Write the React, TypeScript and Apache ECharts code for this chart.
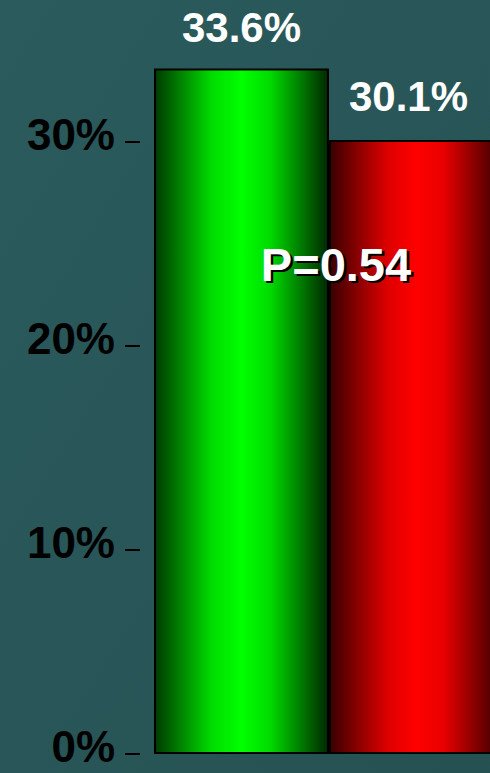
import React, { useEffect, useRef } from "react";
import * as echarts from "echarts";

// Share of patients per group (%)
const groups = ["A", "B"];
const rates = [33.6, 30.1];
const yTicks = [0, 10, 20, 30];
const pValueText = "P=0.54";

const FONT = "'Liberation Sans', Arial, Helvetica, sans-serif";

const greenFill = new echarts.graphic.LinearGradient(0, 0, 1, 0, [
  { offset: 0, color: "#003a00" },
  { offset: 0.33, color: "#00dd00" },
  { offset: 0.5, color: "#00ff00" },
  { offset: 0.66, color: "#00dd00" },
  { offset: 1, color: "#002800" },
]);
const redFill = new echarts.graphic.LinearGradient(0, 0, 1, 0, [
  { offset: 0, color: "#3a0000" },
  { offset: 0.33, color: "#dd0000" },
  { offset: 0.5, color: "#ff0000" },
  { offset: 0.66, color: "#e80000" },
  { offset: 1, color: "#300000" },
]);
const fills = [greenFill, redFill];

export default function App() {
  const ref = useRef<HTMLDivElement>(null);

  useEffect(() => {
    document.body.style.margin = "0";
    const el = ref.current!;
    const chart = echarts.init(el, null, { renderer: "svg" });

    // The SVG renderer drops text shadows, so add a CSS drop shadow to the P-value text.
    const shadePValue = () => {
      el.querySelectorAll("text").forEach((t) => {
        if (t.textContent === pValueText) {
          (t as SVGTextElement).style.textShadow = "2.5px 2.5px 0 #000";
        }
      });
    };
    chart.on("finished", shadePValue);

    chart.setOption({
      animation: false,
      backgroundColor: new echarts.graphic.LinearGradient(0, 0, 1, 1, [
        { offset: 0, color: "#2b5b5d" },
        { offset: 1, color: "#265152" },
      ]),
      grid: {
        left: 154,
        width: 350,
        top: 19.6,
        height: 734.4,
        containLabel: false,
        outerBoundsMode: "none",
      },
      xAxis: {
        type: "category",
        data: groups,
        axisLine: { show: false },
        axisTick: { show: false },
        axisLabel: { show: false },
      },
      yAxis: {
        type: "value",
        min: 0,
        max: 36,
        interval: 10,
        offset: 14,
        splitLine: { show: false },
        axisLine: { show: false },
        axisTick: {
          show: true,
          length: 15,
          customValues: yTicks,
          lineStyle: { color: "#000", width: 2 },
        },
        axisLabel: {
          margin: 25,
          customValues: yTicks,
          fontSize: 44,
          fontWeight: "bold",
          fontFamily: FONT,
          color: "#000",
          verticalAlign: "bottom",
          lineHeight: 16,
          formatter: (v: number) => `${v}%`,
        },
      },
      series: [
        {
          type: "bar",
          barCategoryGap: "0%",
          data: rates.map((v, i) => ({
            value: v,
            itemStyle: { color: fills[i] },
            label: i === 1 ? { offset: [-8, 0], distance: 22 } : undefined,
          })),
          itemStyle: { borderColor: "#000", borderWidth: 2 },
          label: {
            show: true,
            position: "top",
            distance: 20,
            color: "#fff",
            fontSize: 42,
            fontWeight: "bold",
            fontFamily: FONT,
            formatter: (p: any) => `${p.value}%`,
          },
        },
      ],
      graphic: [
        {
          type: "text",
          x: 336,
          y: 264,
          z: 10,
          style: {
            text: pValueText,
            fill: "#fff",
            fontSize: 47,
            fontWeight: "bold",
            fontFamily: FONT,
            align: "center",
            verticalAlign: "middle",
          },
        },
      ],
    });
    shadePValue();
    return () => chart.dispose();
  }, []);

  return (
    <div
      ref={ref}
      style={{ position: "absolute", left: 0, top: 0, width: 490, height: 773 }}
    />
  );
}
